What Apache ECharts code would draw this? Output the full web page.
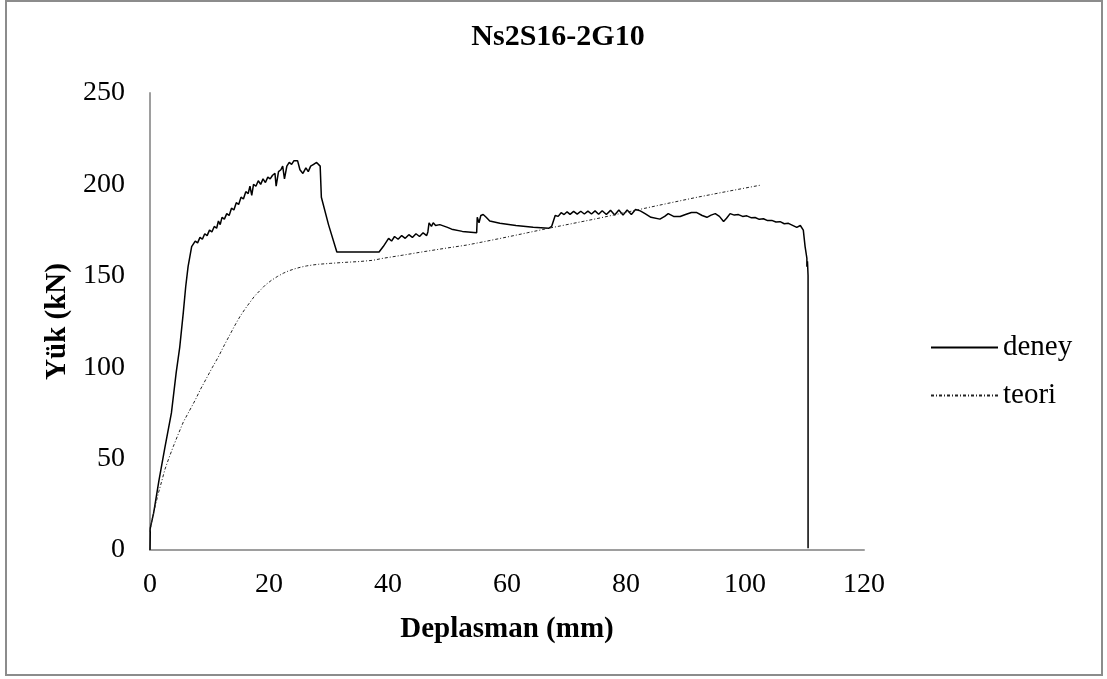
<!DOCTYPE html>
<html>
<head>
<meta charset="utf-8">
<script src="https://cdn.jsdelivr.net/npm/echarts@6/dist/echarts.min.js"></script>
<style>
html,body{margin:0;padding:0;background:#fff;}
#c{width:1107px;height:679px;}
</style>
</head>
<body>
<div id="c"></div>
<script>
const titleText = "Ns2S16-2G10";
const xName = "Deplasman (mm)";
const yName = "Yük (kN)";
const seriesNames = ["deney", "teori"];
const xTicks = {min: 0, max: 120, interval: 20};
const yTicks = {min: 0, max: 250, interval: 50};

const deney = [
[0,0],[0.05,12],[0.6,20],[1.5,38],[2.5,56],[3.6,75],[4.4,97],[4.6,97],[5.0,111],[5.6,130],[6.0,144],[6.4,155],[7.0,166],
[7.6,169],[8.0,168],[8.4,171],[8.8,170],[9.2,173],[9.6,172],[10.0,175],[10.4,174],[10.8,177],[11.2,176],[11.5,180],[11.8,178],
[12.1,182],[12.5,181],[12.9,184],[13.3,183],[13.7,187],[14.1,186],[14.5,190],[14.9,189],[15.3,193],[15.7,192],[16.1,196],[16.5,195],
[16.8,199],[17.1,194],[17.4,200],[17.8,199],[18.2,202],[18.6,200],[19.0,203],[19.4,201],[19.8,204],[20.2,203],[20.6,205],[21.0,206],
[21.2,199],[21.6,207],[22.0,208],[22.3,210],[22.6,203],[23.0,210],[23.4,212],[23.8,211],[24.2,213],[24.4,214],[24.8,213],[25.2,208],
[25.7,206],[26.2,209],[26.6,207],[27.0,210],[27.5,211],[28.0,212],[28.6,210],[28.8,193],[30.0,178],[31.4,163],[38.5,163],
[39.2,166],[40.1,170.5],[40.6,169],[41.1,171.5],[41.7,170],[42.3,172],[42.9,170.5],[43.5,172.5],[44.1,171],[44.7,173],[45.3,171.5],
[45.9,173.5],[46.5,172],[46.7,174],[46.9,179],[47.3,177],[47.6,179],[48.0,177.5],[48.7,178],[50.0,176.5],[50.7,175.5],[52.5,174.3],
[54.9,173.6],[55.0,182],[55.3,179],[55.6,183],[56.0,183.5],[56.5,182],[57.1,180],[58.8,178.7],[61.5,177.5],[64.4,176.5],[67.0,176],
[67.5,177],[68.1,183],[68.6,182.5],[69.1,184.5],[69.6,183.5],[70.1,185],[70.6,183.6],[71.2,185.2],[71.8,183.7],[72.4,185.3],[73.0,183.8],
[73.6,185.4],[74.2,183.8],[74.8,185.5],[75.4,183.7],[76.0,185.6],[76.7,183.5],[77.4,185.8],[78.1,183.3],[78.8,186],[79.5,183.2],
[80.2,186],[80.9,183.5],[81.6,186.3],[82.4,185.5],[83.2,184],[84.2,182],[85.7,181],[86.5,182.5],[87.1,184],[88.0,182.5],[89.1,182.4],
[90.0,183.5],[91.0,184.6],[91.9,184.6],[92.8,183],[93.6,182],[94.3,183.2],[95.0,184],[95.7,182.5],[96.4,179.7],[96.9,181.5],[97.5,184],
[98.2,183.2],[98.9,183.5],[99.6,182.5],[100.3,182.8],[101.0,181.8],[101.7,181.9],[102.4,180.9],[103.1,181.2],[103.8,180.2],[104.5,180.3],
[105.2,179.4],[105.9,179.6],[106.6,178.5],[107.3,178.7],[108.0,177.6],[108.7,176.5],[109.3,177.5],[109.8,175],[110.1,166],[110.4,159.6],
[110.4,155],[110.5,158],[110.6,150],[110.6,1]
];

const teori = [
[0,10],[0.3,16],[0.8,23],[1.4,31],[2.0,38],[2.5,44],[3.2,50.5],[3.9,56.5],[4.7,63],[5.6,70],[6.6,76],[7.6,82],[8.5,88],[9.5,94],
[10.5,100],[11.5,105.7],[12.4,111.5],[13.3,117],[14.2,122.5],[15.1,127.6],[16.0,132],[16.8,135.5],[17.6,139],[18.5,142],[19.4,145],
[20.4,147.5],[21.4,149.6],[22.4,151.4],[23.3,152.7],[24.3,153.8],[25.3,154.7],[26.3,155.4],[27.3,155.9],[28.3,156.3],[30.3,156.8],
[32.5,157.3],[35.2,157.8],[37.5,158.5],[39.2,159.6],[42.5,161.3],[46,163.2],[49.5,165],[53.2,166.8],[56.5,168.9],[60,171.2],
[63.5,173.6],[67.0,176],[71,178.6],[75,181.2],[78.7,183.8],[82.4,186.4],[87,189.6],[92,193],[97.4,196.4],[102.8,199.7]
];

const font = "'Liberation Serif', 'Times New Roman', serif";
const chart = echarts.init(document.getElementById('c'));
chart.setOption({
  animation: false,
  backgroundColor: '#fff',
  title: {
    text: titleText, left: 553, textAlign: 'center', top: 17,
    textStyle: {fontFamily: font, fontSize: 30, fontWeight: 'bold', color: '#000'}
  },
  graphic: [{
    type: 'rect', shape: {x: 6, y: 1, width: 1096, height: 674},
    style: {fill: 'none', stroke: '#8c8c8c', lineWidth: 2}, silent: true
  }],
  legend: {
    orient: 'vertical', left: 930, top: 333, padding: 0, itemWidth: 67, itemHeight: 14, itemGap: 19,
    data: seriesNames,
    itemStyle: {opacity: 0},
    textStyle: {fontFamily: font, fontSize: 29, color: '#000', lineHeight: 29}
  },
  grid: {left: 150, right: 243, top: 93, bottom: 129},
  xAxis: {
    type: 'value', min: xTicks.min, max: xTicks.max, interval: xTicks.interval,
    name: xName, nameLocation: 'middle', nameGap: 65,
    nameTextStyle: {fontFamily: font, fontSize: 29, fontWeight: 'bold', color: '#000'},
    axisLine: {show: true, lineStyle: {color: '#9e9e9e', width: 2}},
    axisTick: {show: false}, splitLine: {show: false},
    axisLabel: {fontFamily: font, fontSize: 28, color: '#000', margin: 21}
  },
  yAxis: {
    type: 'value', min: yTicks.min, max: yTicks.max, interval: yTicks.interval,
    name: yName, nameLocation: 'middle', nameGap: 77,
    nameTextStyle: {fontFamily: font, fontSize: 29, fontWeight: 'bold', color: '#000'},
    axisLine: {show: true, lineStyle: {color: '#9e9e9e', width: 2}},
    axisTick: {show: false}, splitLine: {show: false},
    axisLabel: {fontFamily: font, fontSize: 28, color: '#000', margin: 25}
  },
  series: [
    {name: seriesNames[0], type: 'line', data: deney, symbol: 'none', showSymbol: false,
     lineStyle: {color: '#000', width: 1.5}, itemStyle: {color: '#000'}},
    {name: seriesNames[1], type: 'line', data: teori, symbol: 'none', showSymbol: false,
     lineStyle: {color: '#222', width: 1, type: [3, 2, 1, 2]}, itemStyle: {color: '#222'}}
  ]
});
</script>
</body>
</html>
